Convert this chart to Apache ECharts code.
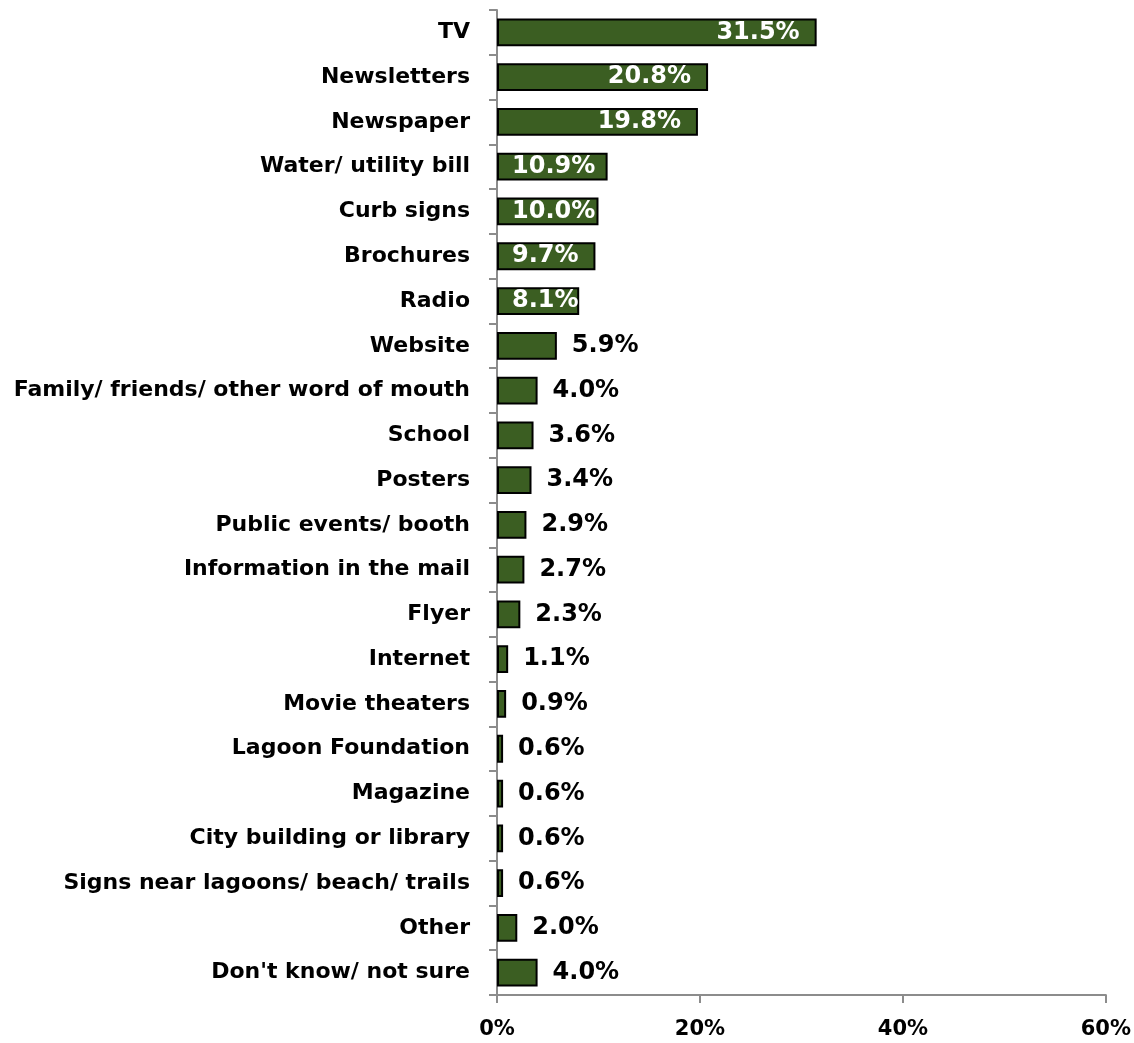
<!DOCTYPE html>
<html>
<head>
<meta charset="utf-8">
<script src="https://cdn.jsdelivr.net/npm/echarts@6/dist/echarts.min.js"></script>
<style>
  html, body { margin: 0; padding: 0; background: #fff; }
  #chart { width: 1134px; height: 1043px; }
</style>
</head>
<body>
<div id="chart"></div>
<script>
// Sources of information, top to bottom
const categories = [
  'TV', 'Newsletters', 'Newspaper', 'Water/ utility bill', 'Curb signs',
  'Brochures', 'Radio', 'Website', 'Family/ friends/ other word of mouth',
  'School', 'Posters', 'Public events/ booth', 'Information in the mail',
  'Flyer', 'Internet', 'Movie theaters', 'Lagoon Foundation', 'Magazine',
  'City building or library', 'Signs near lagoons/ beach/ trails', 'Other',
  "Don't know/ not sure"
];
// Share of respondents, percent
const shares = [
  31.5, 20.8, 19.8, 10.9, 10.0, 9.7, 8.1, 5.9, 4.0, 3.6, 3.4, 2.9, 2.7,
  2.3, 1.1, 0.9, 0.6, 0.6, 0.6, 0.6, 2.0, 4.0
];
const xTicks = [0, 20, 40, 60];

const FONT = 'DejaVu Sans';
const AXIS_GREY = '#8c8c8c';

// Long bars carry their label at the inner end, mid bars at the inner start,
// short bars get the label just past the bar end.
function labelFor(v) {
  if (v >= 15) return { position: 'insideRight', distance: 17, color: '#ffffff' };
  if (v >= 7.5) return { position: 'insideLeft', distance: 15, color: '#ffffff' };
  return { position: 'right', distance: 15, color: '#000000' };
}

const barData = shares.map(v => ({ value: v, label: labelFor(v) }));

const chart = echarts.init(document.getElementById('chart'), null, { renderer: 'canvas' });
chart.setOption({
  backgroundColor: '#ffffff',
  animation: false,
  grid: { left: 497, right: 28, top: 10, bottom: 48, containLabel: false },
  xAxis: {
    type: 'value',
    min: xTicks[0],
    max: xTicks[xTicks.length - 1],
    interval: 20,
    axisLine: { show: true, lineStyle: { color: AXIS_GREY, width: 2 } },
    axisTick: { show: true, length: 8, lineStyle: { color: AXIS_GREY, width: 2 } },
    splitLine: { show: false },
    axisLabel: {
      margin: 24,
      fontFamily: FONT,
      fontWeight: 'bold',
      fontSize: 21,
      color: '#000',
      formatter: v => v + '%'
    }
  },
  yAxis: {
    type: 'category',
    data: categories,
    inverse: true,
    axisLine: { show: true, lineStyle: { color: AXIS_GREY, width: 2 } },
    axisTick: { show: true, length: 8, alignWithLabel: false, lineStyle: { color: AXIS_GREY, width: 2 } },
    axisLabel: {
      margin: 27,
      fontFamily: FONT,
      fontWeight: 'bold',
      fontSize: 22,
      color: '#000'
    }
  },
  series: [{
    type: 'bar',
    data: barData,
    barWidth: '62%',
    itemStyle: { color: '#3b5e22', borderColor: '#000', borderWidth: 2 },
    label: {
      show: true,
      fontFamily: FONT,
      fontWeight: 'bold',
      fontSize: 24,
      formatter: p => p.value.toFixed(1) + '%'
    }
  }]
});
</script>
</body>
</html>
